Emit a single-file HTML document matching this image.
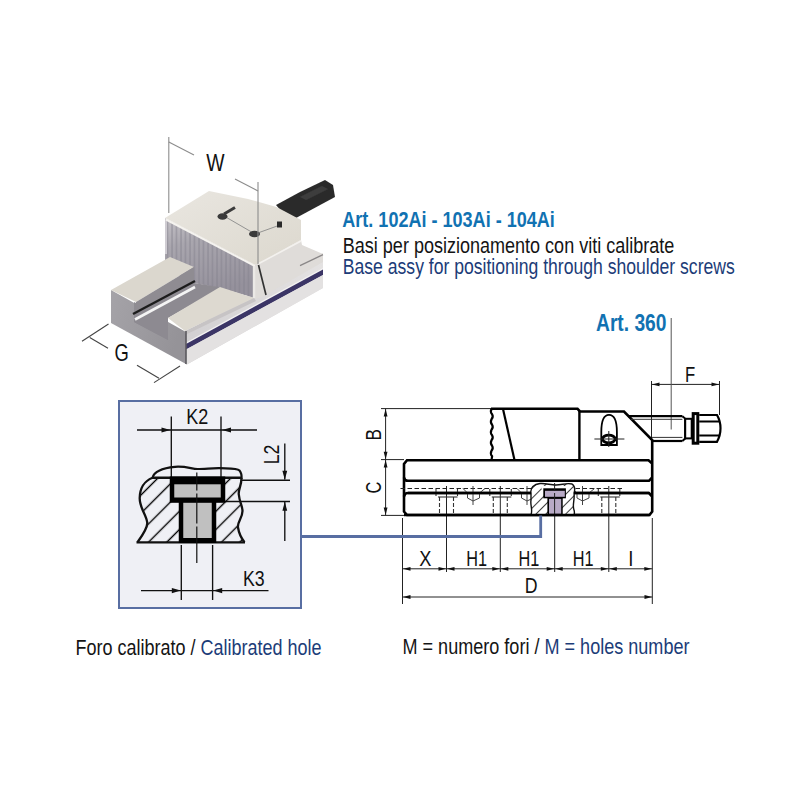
<!DOCTYPE html>
<html><head><meta charset="utf-8">
<style>
html,body{margin:0;padding:0;background:#fff;width:800px;height:800px;overflow:hidden}
svg{display:block}
text{font-family:"Liberation Sans",sans-serif}
</style></head>
<body>
<svg width="800" height="800" viewBox="0 0 800 800">
<defs>
<pattern id="hatch" patternUnits="userSpaceOnUse" width="12.9" height="12.9" patternTransform="rotate(45) translate(4.65 0)">
<line x1="6.45" y1="0" x2="6.45" y2="12.9" stroke="#000" stroke-width="1.4"/>
</pattern>
<pattern id="hatch2" patternUnits="userSpaceOnUse" width="7" height="7" patternTransform="rotate(45)">
<line x1="0" y1="0" x2="0" y2="7" stroke="#000" stroke-width="1.5"/>
</pattern>
<linearGradient id="gFront" x1="0" y1="0" x2="1" y2="0.3"><stop offset="0" stop-color="#a5a3a8"/><stop offset="1" stop-color="#959398"/></linearGradient>
<linearGradient id="gJawFront" x1="0" y1="0" x2="0.3" y2="1"><stop offset="0" stop-color="#c4c1c6"/><stop offset="0.35" stop-color="#a9a6ae"/><stop offset="1" stop-color="#95919c"/></linearGradient>
<linearGradient id="gTop" x1="0" y1="0" x2="1" y2="1"><stop offset="0" stop-color="#e9e6e0"/><stop offset="1" stop-color="#dcd8ce"/></linearGradient>
<linearGradient id="gRight" x1="0" y1="0" x2="1" y2="0"><stop offset="0" stop-color="#d2d0d2"/><stop offset="1" stop-color="#e4e2e2"/></linearGradient>
<filter id="soft" x="-5%" y="-5%" width="110%" height="110%"><feGaussianBlur stdDeviation="0.6"/></filter>
<pattern id="stripes" patternUnits="userSpaceOnUse" width="4.5" height="4"><line x1="1" y1="0" x2="1" y2="4" stroke="#83808c" stroke-width="1.1" stroke-opacity="0.7"/></pattern>
</defs>
<rect width="800" height="800" fill="#fff"/>
<g id="vise">
<g filter="url(#soft)">
<polygon points="276,205 300,192 325,180 333,185 335,197 296,218 282,212" fill="#2c2c2c" />
<polygon points="300,197 322,186 328,189 306,200" fill="#3c3c3c" />
<polygon points="186,332 323,253 323,288 186,365" fill="url(#gRight)" />
<polygon points="186,342.5 323,268 323,270 186,344.5" fill="#f3f2f2" />
<polygon points="186,344 323,269.5 323,275 186,349.5" fill="#3b3566" />
<polygon points="186,349.5 323,275 323,288 186,365" fill="#e3e1e1" />
<polygon points="165,218 255,265 255,298 220,288 194,283 165,268" fill="url(#gJawFront)" />
<polygon points="165,218 255,265 255,298 220,288 194,283 165,268" fill="url(#stripes)" />
<line x1="166" y1="219" x2="166" y2="254" stroke="#cfccd2" stroke-width="2"/>
<polygon points="111,290 186,332 186,364 111,323" fill="url(#gFront)" />
<polygon points="134,302 168,320 168,340 134,322" fill="#8f8d93" />
<polygon points="134,314 194,281 194,283 222,287.5 168,318 168,340 134,322" fill="#8d8a91" />
<polygon points="111,290 170,257 194,267 136,302" fill="#dbd7ce" />
<polygon points="136,302 194,267 194,281 134,314" fill="#8f8c92" />
<line x1="133" y1="314" x2="195" y2="281" stroke="#1e1e1e" stroke-width="2.4"/>
<line x1="135" y1="319.5" x2="195" y2="287" stroke="#f4f4f4" stroke-width="2.6"/>
<polygon points="168,318 220,287 254,298 185,331" fill="#ddd9d0" />
<polygon points="185,331 254,298 256,301 186,334.5" fill="#c7c4c5" />
<line x1="186" y1="331" x2="186" y2="364" stroke="#5a585e" stroke-width="1.6"/>
<polygon points="165,218 209,191 248,199 276.5,207 301,220 301,240 258,264 255,265" fill="url(#gTop)" />
<line x1="166" y1="219.5" x2="255" y2="266" stroke="#f5f3ef" stroke-width="2"/>
<polygon points="255,265 301,240 302,245 323,254 323,262 262,297 255,299" fill="#dfdcd9" />
<line x1="258" y1="264" x2="301" y2="241" stroke="#f3f1ee" stroke-width="1.6"/>
<line x1="300" y1="265.7" x2="323" y2="254.7" stroke="#8a8788" stroke-width="1.3"/>
<line x1="254" y1="266" x2="254" y2="298" stroke="#ebe9e6" stroke-width="2.5"/>
<line x1="258.5" y1="265" x2="266" y2="295" stroke="#333" stroke-width="1.7"/>
<g stroke="#8a8a8a" stroke-width="0.9"><line x1="224" y1="216" x2="255" y2="234"/><line x1="255" y1="234" x2="280" y2="225"/></g>
<ellipse cx="222.5" cy="216.5" rx="5" ry="3.2" fill="#3a3a3a"/><line x1="224" y1="214" x2="235" y2="207.5" stroke="#3a3a3a" stroke-width="3"/>
<ellipse cx="254.5" cy="234" rx="5.5" ry="3.2" fill="#3a3a3a"/>
<rect x="277" y="221.5" width="5" height="6" fill="#2a2a2a"/>
</g>
<g stroke="#8c8c8c" stroke-width="1.1" fill="none">
<line x1="168.8" y1="137" x2="168.8" y2="213"/>
<line x1="168.8" y1="142" x2="194" y2="155"/>
<line x1="235" y1="179" x2="258" y2="191"/>
<line x1="258" y1="182" x2="258" y2="264"/>
</g>
<g stroke="#444" stroke-width="1.1" fill="none">
<line x1="108.5" y1="324" x2="82" y2="341.3"/>
<line x1="89.7" y1="337.5" x2="108" y2="348.2"/>
<line x1="137" y1="365.3" x2="159" y2="378.2"/>
<line x1="154" y1="382.6" x2="180" y2="366"/>
</g>
<text x="206.3" y="170.8" font-size="24.5" fill="#111" textLength="18.3" lengthAdjust="spacingAndGlyphs" >W</text>
<text x="114.6" y="361.2" font-size="24" fill="#111" textLength="14.3" lengthAdjust="spacingAndGlyphs" >G</text>
</g>
<text x="342.3" y="226.6" font-size="22.3" fill="#1172b2" font-weight="bold" textLength="212.5" lengthAdjust="spacingAndGlyphs" >Art. 102Ai - 103Ai - 104Ai</text>
<text x="342.8" y="253" font-size="22" fill="#141414" textLength="331.5" lengthAdjust="spacingAndGlyphs" >Basi per posizionamento con viti calibrate</text>
<text x="342.8" y="273.5" font-size="22" fill="#1c3c78" textLength="392" lengthAdjust="spacingAndGlyphs" >Base assy for positioning through shoulder screws</text>
<g id="box">
<rect x="119" y="401" width="182" height="207" fill="#eff0f5" stroke="#586ea2" stroke-width="2"/>
<g stroke="#111" stroke-width="1.35" fill="none">
<line x1="137" y1="430" x2="257" y2="430"/>
<line x1="171.3" y1="416.5" x2="171.3" y2="477"/>
<line x1="221" y1="416.5" x2="221" y2="477"/>
<line x1="241" y1="480.2" x2="290" y2="480.2"/>
<line x1="225" y1="501.5" x2="290" y2="501.5"/>
<line x1="284.8" y1="443.5" x2="284.8" y2="479.5"/>
<line x1="284.8" y1="501.5" x2="284.8" y2="541"/>
<line x1="181.3" y1="545" x2="181.3" y2="600"/>
<line x1="212.6" y1="545" x2="212.6" y2="600"/>
<line x1="141" y1="590.6" x2="268.5" y2="590.6"/>
</g>
<polygon points="170.50,430.00 161.50,427.40 161.50,432.60" fill="#111"/>
<polygon points="222.00,430.00 231.00,427.40 231.00,432.60" fill="#111"/>
<polygon points="284.80,479.80 282.40,470.80 287.20,470.80" fill="#111"/>
<polygon points="284.80,501.80 282.40,510.80 287.20,510.80" fill="#111"/>
<polygon points="180.80,590.60 171.80,588.00 171.80,593.20" fill="#111"/>
<polygon points="213.20,590.60 222.20,588.00 222.20,593.20" fill="#111"/>
<path d="M137.5,542.2 C142,536 148,528 147.2,522.5 C146.5,515 139.5,508 139.7,498 C139.8,489 144,481 152.5,477.7 L241.5,477.7 C241.5,486 238,490 238.8,494.5 C239.5,502 242.5,506 242.5,511 C242.5,518 237,522 238,527.5 C239,534 242,539 244.5,542.2 Z" fill="url(#hatch)" stroke="none"/>
<path d="M152.5,477.7 C154,472 162,468 175,466.8 C186,466 192,469 197.5,469 C205,469 213,468 220,468.2 C230,468.5 237,468 239.5,470.5 C241.5,473 241.8,476 241.5,479" fill="none" stroke="#111" stroke-width="2.2"/>
<path d="M137.5,542.2 C142,536 148,528 147.2,522.5 C146.5,515 139.5,508 139.7,498 C139.8,489 144,481 152.5,477.7M241.5,477.7 C241.5,486 238,490 238.8,494.5 C239.5,502 242.5,506 242.5,511 C242.5,518 237,522 238,527.5 C239,534 242,539 244.5,542.2 " fill="none" stroke="#111" stroke-width="2.3"/>
<line x1="152" y1="477.7" x2="241.5" y2="477.7" stroke="#111" stroke-width="2.4"/>
<line x1="136.5" y1="542.3" x2="245" y2="542.3" stroke="#111" stroke-width="2.2"/>
<rect x="169.75" y="476.5" width="55.5" height="26.3" fill="#000"/>
<rect x="178.75" y="502" width="37.5" height="41" fill="#000"/>
<rect x="174.25" y="484.3" width="46.5" height="13.2" fill="#c0c0c0"/>
<rect x="183.25" y="502.8" width="28.5" height="35.2" fill="#c0c0c0"/>
<line x1="196.8" y1="472.5" x2="196.8" y2="563" stroke="#111" stroke-width="1.2" stroke-dasharray="18,3,30,3,60"/>
<text x="186.2" y="424" font-size="22" fill="#111" textLength="22" lengthAdjust="spacingAndGlyphs" >K2</text>
<text x="242.9" y="585.8" font-size="22" fill="#111" textLength="21.7" lengthAdjust="spacingAndGlyphs" >K3</text>
<text transform="translate(278.8,464.3) rotate(-90)" font-size="22.5" fill="#111" textLength="19.8" lengthAdjust="spacingAndGlyphs" >L2</text>
</g>
<g id="side">
<g stroke="#222" stroke-width="1" fill="none">
<line x1="381" y1="408.6" x2="491" y2="408.6"/>
<line x1="381" y1="459.6" x2="404" y2="459.6"/>
<line x1="381" y1="515.4" x2="404" y2="515.4"/>
<line x1="385.6" y1="408.6" x2="385.6" y2="515.4"/>
<line x1="402.5" y1="518" x2="402.5" y2="604"/>
<line x1="446.5" y1="486" x2="446.5" y2="572"/>
<line x1="500.3" y1="486" x2="500.3" y2="572"/>
<line x1="554.7" y1="515" x2="554.7" y2="572"/>
<line x1="608.8" y1="486" x2="608.8" y2="572"/>
<line x1="652.3" y1="518" x2="652.3" y2="604"/>
<line x1="402.5" y1="568.8" x2="652.3" y2="568.8"/>
<line x1="402.5" y1="597" x2="652.3" y2="597"/>
<line x1="651.5" y1="381" x2="651.5" y2="440"/>
<line x1="719.5" y1="381" x2="719.5" y2="415"/>
<line x1="651.5" y1="384.4" x2="719.5" y2="384.4"/>
<line x1="671.2" y1="318" x2="671.2" y2="429.5" stroke="#555"/>
</g>
<polygon points="385.60,409.00 383.70,416.50 387.50,416.50" fill="#111"/>
<polygon points="385.60,459.30 383.70,451.80 387.50,451.80" fill="#111"/>
<polygon points="385.60,460.00 383.70,467.50 387.50,467.50" fill="#111"/>
<polygon points="385.60,515.00 383.70,507.50 387.50,507.50" fill="#111"/>
<polygon points="652.00,384.40 659.50,382.50 659.50,386.30" fill="#111"/>
<polygon points="719.00,384.40 711.50,382.50 711.50,386.30" fill="#111"/>
<polygon points="403.00,568.80 410.50,566.90 410.50,570.70" fill="#111"/>
<polygon points="446.00,568.80 438.50,566.90 438.50,570.70" fill="#111"/>
<polygon points="447.00,568.80 454.50,566.90 454.50,570.70" fill="#111"/>
<polygon points="499.80,568.80 492.30,566.90 492.30,570.70" fill="#111"/>
<polygon points="500.80,568.80 508.30,566.90 508.30,570.70" fill="#111"/>
<polygon points="554.20,568.80 546.70,566.90 546.70,570.70" fill="#111"/>
<polygon points="555.20,568.80 562.70,566.90 562.70,570.70" fill="#111"/>
<polygon points="608.30,568.80 600.80,566.90 600.80,570.70" fill="#111"/>
<polygon points="609.30,568.80 616.80,566.90 616.80,570.70" fill="#111"/>
<polygon points="651.80,568.80 644.30,566.90 644.30,570.70" fill="#111"/>
<polygon points="403.00,597.00 410.50,595.10 410.50,598.90" fill="#111"/>
<polygon points="652.00,597.00 644.50,595.10 644.50,598.90" fill="#111"/>
<path d="M491,408.8 L577.5,408.8 L580,411.5 L624,411.5 L652.2,440 L652.2,511.5 L649.5,515 L407,515 L404,511.5 L404,464 L407,460.2 L491,460.2" stroke="#000" stroke-width="2.6" fill="none"/>
<path d="M491.5,408.8 q-1.5,3 0.6,5.5 q1.5,2.5 -0.6,5 q-1.5,3 0.6,5.5 q1.5,2.5 -0.6,5 q-1.5,3 0.6,5.5 q1.5,2.5 -0.6,5 q-1.5,3 0.6,5.5 q1.5,2.5 -0.6,5 q-1.5,3 0.6,5.5 L491.5,460.2" stroke="#000" stroke-width="2.2" fill="none"/>
<line x1="503" y1="409" x2="514.5" y2="460" stroke="#000" stroke-width="2.2"/>
<line x1="579.4" y1="411" x2="579.4" y2="460" stroke="#000" stroke-width="2.4"/>
<path d="M491,460.2 L648.5,460.2 L652.2,463.5" stroke="#000" stroke-width="2.6" fill="none"/>
<path d="M404,477.5 Q404.5,480.8 408,480.8 L649,480.8 L652.2,477.5" stroke="#000" stroke-width="2.6" fill="none"/>
<path d="M404,496.5 Q404.5,493 408,493 L649,493 L652.2,496.5" stroke="#000" stroke-width="2.6" fill="none"/>
<line x1="400.5" y1="488.5" x2="622" y2="488.5" stroke="#222" stroke-width="1.2" stroke-dasharray="4.5,2.5"/>
<path d="M601.3,445 L601.3,432 C601.3,421 604,414.8 609,414.8 C614,414.8 616.9,421 616.9,432 L616.9,445 Z" stroke="#000" stroke-width="1.8" fill="none"/>
<ellipse cx="608.8" cy="439" rx="6.3" ry="3.9" stroke="#000" stroke-width="2.8" fill="#fff"/>
<line x1="594.4" y1="439" x2="624.4" y2="439" stroke="#222" stroke-width="1"/>
<line x1="608.8" y1="431" x2="608.8" y2="447" stroke="#222" stroke-width="1"/>
<line x1="628" y1="416.2" x2="682.4" y2="416.2" stroke="#000" stroke-width="2.2"/>
<line x1="631" y1="419.3" x2="682.4" y2="419.3" stroke="#333" stroke-width="1"/>
<line x1="652" y1="437.4" x2="682.4" y2="437.4" stroke="#333" stroke-width="1"/>
<line x1="652" y1="441" x2="682.4" y2="441" stroke="#000" stroke-width="2.2"/>
<path d="M682.4,416.2 L685.2,418.6 L685.2,438.5 L682.4,441" stroke="#000" stroke-width="2" fill="none"/>
<rect x="685.2" y="418.8" width="6.5" height="19.6" stroke="#000" stroke-width="2" fill="#fff"/>
<rect x="693.2" y="413.6" width="4.6" height="29.6" stroke="#000" stroke-width="3" fill="#fff"/>
<path d="M699.2,415 L717,415 Q720.5,421 720.5,428.3 Q720.5,435.5 717,441.8 L699.2,441.8" stroke="#000" stroke-width="2.2" fill="none"/>
<line x1="699.2" y1="421.5" x2="719" y2="421.5" stroke="#000" stroke-width="2"/>
<line x1="699.2" y1="435.5" x2="719" y2="435.5" stroke="#000" stroke-width="2"/>
<g stroke="#333" stroke-width="1.1" fill="none">
<line x1="438.0" y1="497" x2="457.5" y2="497"/>
<line x1="439.5" y1="497" x2="439.5" y2="515" stroke-dasharray="4,2"/>
<line x1="453.5" y1="497" x2="453.5" y2="515" stroke-dasharray="4,2"/>
<line x1="436.0" y1="489" x2="436.0" y2="496" stroke-dasharray="3,1.5"/>
<line x1="457.5" y1="489" x2="457.5" y2="496" stroke-dasharray="3,1.5"/>
</g>
<g stroke="#333" stroke-width="1.1" fill="none">
<line x1="491.8" y1="497" x2="511.3" y2="497"/>
<line x1="493.3" y1="497" x2="493.3" y2="515" stroke-dasharray="4,2"/>
<line x1="507.3" y1="497" x2="507.3" y2="515" stroke-dasharray="4,2"/>
<line x1="489.8" y1="489" x2="489.8" y2="496" stroke-dasharray="3,1.5"/>
<line x1="511.3" y1="489" x2="511.3" y2="496" stroke-dasharray="3,1.5"/>
</g>
<g stroke="#333" stroke-width="1.1" fill="none">
<line x1="600.3" y1="497" x2="619.8" y2="497"/>
<line x1="601.8" y1="497" x2="601.8" y2="515" stroke-dasharray="4,2"/>
<line x1="615.8" y1="497" x2="615.8" y2="515" stroke-dasharray="4,2"/>
<line x1="598.3" y1="489" x2="598.3" y2="496" stroke-dasharray="3,1.5"/>
<line x1="619.8" y1="489" x2="619.8" y2="496" stroke-dasharray="3,1.5"/>
</g>
<g stroke="#444" stroke-width="1" fill="none">
<path d="M463.0,488.5 L467.5,493 M485.0,488.5 L479.5,493"/>
<path d="M467.5,493 L467.5,498 L473.0,501 L479.5,498 L479.5,493"/>
<line x1="473.0" y1="486" x2="473.0" y2="505"/>
</g>
<g stroke="#444" stroke-width="1" fill="none">
<path d="M517.0,488.5 L521.5,493 M539.0,488.5 L533.5,493"/>
<path d="M521.5,493 L521.5,498 L527.0,501 L533.5,498 L533.5,493"/>
<line x1="527.0" y1="486" x2="527.0" y2="505"/>
</g>
<g stroke="#444" stroke-width="1" fill="none">
<path d="M572.5,488.5 L577.0,493 M594.5,488.5 L589.0,493"/>
<path d="M577.0,493 L577.0,498 L582.5,501 L589.0,498 L589.0,493"/>
<line x1="582.5" y1="486" x2="582.5" y2="505"/>
</g>
<path d="M531,493 C530,488 534,484 540,483.5 C546,483 550,485 556,485 C562,485 567,482.5 572,484 C575,486 575,490 574,493 C575,500 572,505 574,510 C575,513 574,514 574,515 L531,515 C533,510 530,505 531,500 Z" fill="#fff" stroke="none"/>
<path d="M531,493 C530,488 534,484 540,483.5 C546,483 550,485 556,485 C562,485 567,482.5 572,484 C575,486 575,490 574,493 C575,500 572,505 574,510 C575,513 574,514 574,515 L531,515 C533,510 530,505 531,500 Z" fill="url(#hatch2)" stroke="#111" stroke-width="1.4"/>
<rect x="541.5" y="486" width="26" height="3" fill="#fff"/>
<rect x="543.3" y="488.3" width="22.6" height="10" fill="#000"/>
<rect x="547.4" y="497.5" width="15.3" height="17.5" fill="#000"/>
<rect x="545" y="490.8" width="19.8" height="6" fill="#b8aac6"/>
<rect x="549" y="498.9" width="12.2" height="14.9" fill="#b8aac6"/>
<line x1="554.6" y1="483" x2="554.6" y2="515" stroke="#222" stroke-width="1" stroke-dasharray="8,2,30"/>
<line x1="404" y1="515" x2="649.5" y2="515" stroke="#000" stroke-width="2.6" fill="none"/>
<line x1="408" y1="493" x2="531" y2="493" stroke="#000" stroke-width="2.6" fill="none"/>
<line x1="574" y1="493" x2="649" y2="493" stroke="#000" stroke-width="2.6" fill="none"/>
<path d="M302,536.5 L540.7,536.5 L540.7,515.5" stroke="#586ea2" stroke-width="2.8" fill="none"/>
<text transform="translate(380.5,440.6) rotate(-90)" font-size="22" fill="#111" textLength="11.5" lengthAdjust="spacingAndGlyphs" >B</text>
<text transform="translate(380.8,493.5) rotate(-90)" font-size="22.5" fill="#111" textLength="11.8" lengthAdjust="spacingAndGlyphs" >C</text>
<text x="685" y="381.9" font-size="22.2" fill="#111" textLength="10.2" lengthAdjust="spacingAndGlyphs" >F</text>
<text x="419.2" y="565.7" font-size="22.2" fill="#111" textLength="12.2" lengthAdjust="spacingAndGlyphs" >X</text>
<text x="466.2" y="565.7" font-size="22.2" fill="#111" textLength="20.8" lengthAdjust="spacingAndGlyphs" >H1</text>
<text x="518.5" y="565.7" font-size="22.2" fill="#111" textLength="20.8" lengthAdjust="spacingAndGlyphs" >H1</text>
<text x="572.8" y="565.7" font-size="22.2" fill="#111" textLength="20.8" lengthAdjust="spacingAndGlyphs" >H1</text>
<text x="628.3" y="565.7" font-size="22.2" fill="#111" textLength="5.2" lengthAdjust="spacingAndGlyphs" >I</text>
<text x="524.7" y="593.3" font-size="22.2" fill="#111" textLength="12.8" lengthAdjust="spacingAndGlyphs" >D</text>
<text x="596" y="330.6" font-size="23" fill="#1172b2" font-weight="bold" textLength="70.5" lengthAdjust="spacingAndGlyphs" >Art. 360</text>
</g>
<text x="75.5" y="654.5" font-size="22" fill="#141414" textLength="246" lengthAdjust="spacingAndGlyphs">Foro calibrato / <tspan fill="#1c3c78">Calibrated hole</tspan></text>
<text x="402.5" y="654" font-size="22" fill="#141414" textLength="287" lengthAdjust="spacingAndGlyphs">M = numero fori / <tspan fill="#1c3c78">M = holes number</tspan></text>
</svg>
</body></html>
